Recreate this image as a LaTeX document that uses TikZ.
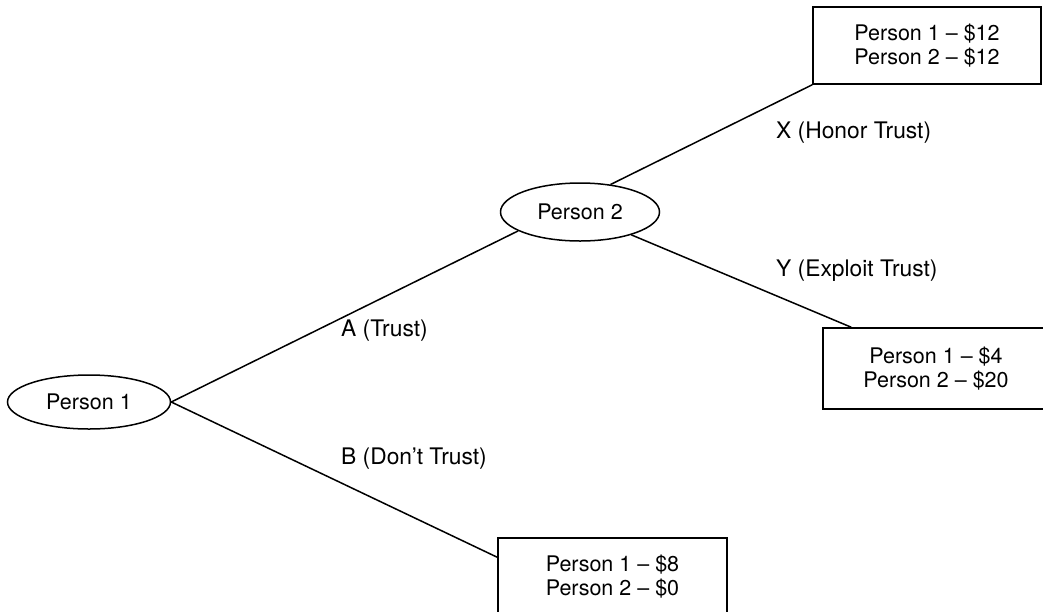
\documentclass[tikz,border=0pt]{standalone}
\usepackage{fontspec}
\setmainfont{TeX Gyre Heros}
\usetikzlibrary{shapes.geometric,calc}
\begin{document}
\begin{tikzpicture}[x=1pt,y=-1pt,
  every node/.style={font=\fontsize{21.5}{24}\selectfont},
  person/.style={draw, ellipse, line width=1.5pt, inner sep=0pt},
  payoff/.style={draw, rectangle, line width=1.5pt, align=center, inner sep=0pt},
  lbl/.style={anchor=west, inner sep=0pt, font=\fontsize{22.8}{25}\selectfont},
  edge/.style={line width=1.5pt}]
\useasboundingbox (0,0) rectangle (1043,611);
\node[person, minimum width=163pt, minimum height=54pt] (p1) at (89,402) {Person 1};
\node[person, minimum width=159pt, minimum height=58pt] (p2) at (580,212) {Person 2};
\node[payoff, minimum width=228pt, minimum height=77pt] (top) at (927,45.5) {Person 1 -- \$12\\Person 2 -- \$12};
\node[payoff, minimum width=226pt, minimum height=81pt] (mid) at (936,368.5) {Person 1 -- \$4\\Person 2 -- \$20};
\node[payoff, minimum width=229pt, minimum height=78pt] (bot) at (612.5,577) {Person 1 -- \$8\\Person 2 -- \$0};
\draw[edge] (p1.east) -- (p2.197);
\draw[edge] (p1.east) -- ($(bot.north west)+(0,20)$);
\draw[edge] (p2.42) -- (top.south west);
\draw[edge] (p2.336) -- ($(mid.north west)+(29,0)$);
\node[lbl] (lx) at (776,133) {X (Honor Trust)};
\node[lbl] (ly) at (776,271) {Y (Exploit Trust)};
\node[lbl] (la) at (341,331) {A (Trust)};
\node[lbl] (lb) at (341,459) {B (Don’t Trust)};
\end{tikzpicture}
\end{document}
